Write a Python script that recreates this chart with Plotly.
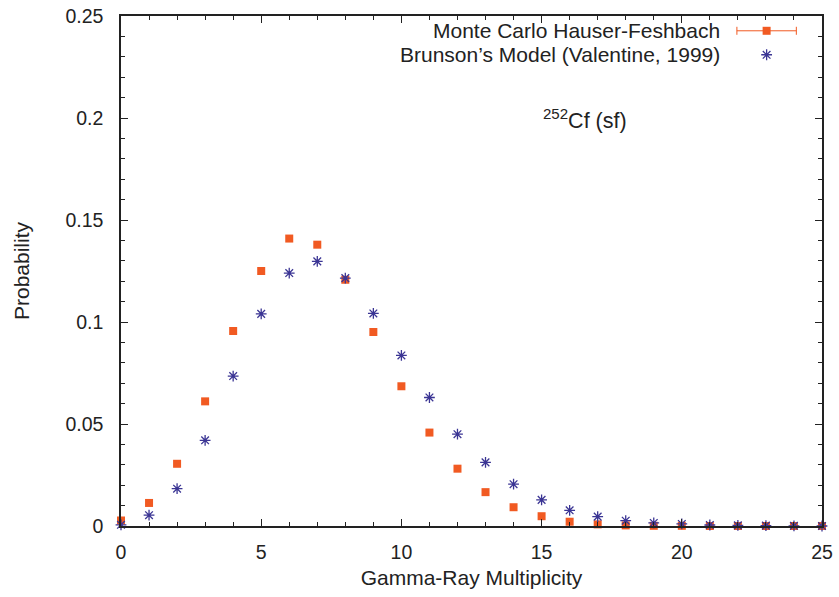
import plotly.graph_objects as go

# gamma-ray multiplicity values
multiplicity = list(range(0, 26))

# Monte Carlo Hauser-Feshbach probabilities
mchf_prob = [0.0027, 0.0113, 0.0305, 0.0611, 0.0956, 0.1250, 0.1409, 0.1379,
             0.1207, 0.0951, 0.0685, 0.0458, 0.0281, 0.0166, 0.0092, 0.0048,
             0.0021, 0.0008, 0.0003, 0.0001, 0.0001, 0.0, 0.0, 0.0, 0.0, 0.0]

# Brunson's model (Valentine, 1999)
brunson_prob = [0.0006, 0.0053, 0.0183, 0.0420, 0.0735, 0.1040, 0.1240, 0.1297,
                0.1215, 0.1042, 0.0836, 0.0630, 0.0450, 0.0312, 0.0205, 0.0128,
                0.0077, 0.0046, 0.0026, 0.0015, 0.0010, 0.0005, 0.0003, 0.0002,
                0.0001, 0.0]

# axis tick labels
y_ticks = [0, 0.05, 0.1, 0.15, 0.2, 0.25]
y_tick_text = ['0', '0.05', '0.1', '0.15', '0.2', '0.25']

legend_labels = ["Monte Carlo Hauser-Feshbach", "Brunson\u2019s Model (Valentine, 1999)"]

orange = '#f15a22'
blue = '#3b3594'
ink = '#222222'
font_name = 'Liberation Sans, Arial, sans-serif'

fig = go.Figure()

fig.add_trace(go.Scatter(x=multiplicity, y=mchf_prob, mode='markers',
                         marker=dict(symbol='square', size=8, color=orange),
                         name=legend_labels[0], cliponaxis=False))
fig.add_trace(go.Scatter(x=multiplicity, y=brunson_prob, mode='markers',
                         marker=dict(symbol='asterisk-open', size=9, color=blue,
                                     line=dict(color=blue, width=1.3)),
                         name=legend_labels[1], cliponaxis=False))

# gnuplot-style key: text on the left, sample on the right
key_x = 0.921
key_y = [0.971, 0.924]
fig.add_trace(go.Scatter(x=[key_x], y=[key_y[0]], mode='markers', xaxis='x2', yaxis='y2',
                         marker=dict(symbol='square', size=8, color=orange),
                         error_x=dict(type='data', array=[0.0424], color=orange,
                                      thickness=1, width=4),
                         showlegend=False, hoverinfo='skip'))
fig.add_trace(go.Scatter(x=[key_x], y=[key_y[1]], mode='markers', xaxis='x2', yaxis='y2',
                         marker=dict(symbol='asterisk-open', size=9, color=blue,
                                     line=dict(color=blue, width=1.3)),
                         showlegend=False, hoverinfo='skip'))
for label, ky in zip(legend_labels, key_y):
    fig.add_annotation(x=0.857, y=ky, xref='x2', yref='y2', text=label,
                       showarrow=False, xanchor='right', yanchor='middle',
                       font=dict(size=21, color=ink, family=font_name))

fig.add_annotation(x=0.662, y=0.799, xref='x2', yref='y2',
                   text='<sup>252</sup>Cf (sf)', showarrow=False,
                   font=dict(size=21.5, color=ink, family=font_name))

axis_common = dict(showgrid=False, zeroline=False, showline=True, linecolor=ink,
                   linewidth=1.5, mirror='ticks', ticks='inside', ticklen=7,
                   tickwidth=1.2, tickcolor=ink, ticklabeloverflow='allow',
                   automargin=False,
                   tickfont=dict(size=19.5, color=ink, family=font_name))

fig.update_layout(
    width=839, height=597,
    margin=dict(l=121, r=17, t=16, b=71),
    paper_bgcolor='white', plot_bgcolor='white',
    showlegend=False,
    font=dict(family=font_name, color=ink),
    xaxis=dict(range=[0, 25], dtick=5, tick0=0, ticklabelstandoff=8,
               title=dict(text='Gamma-Ray Multiplicity', font=dict(size=21), standoff=8),
               minor=dict(dtick=1, ticks='inside', ticklen=4, tickcolor=ink),
               **axis_common),
    yaxis=dict(range=[0, 0.25], tickmode='array', tickvals=y_ticks, ticktext=y_tick_text,
               ticklabelstandoff=12,
               title=dict(text='Probability', font=dict(size=21), standoff=30),
               minor=dict(dtick=0.01, tick0=0, ticks='inside', ticklen=4, tickcolor=ink),
               **axis_common),
    xaxis2=dict(range=[0, 1], overlaying='x', visible=False),
    yaxis2=dict(range=[0, 1], overlaying='y', visible=False),
)

# drop the default page margin so the figure fills the window exactly
fig.write_html("out.html", config={'displayModeBar': False},
               post_script="document.body.style.margin='0';")
